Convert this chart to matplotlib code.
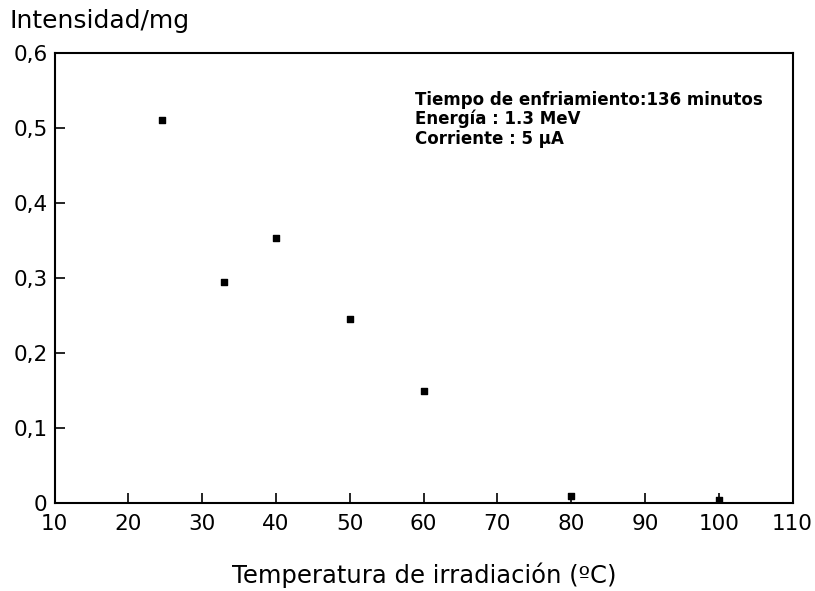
import matplotlib
matplotlib.use("Agg")
import matplotlib.pyplot as plt

# Data
temperatura = [24.6, 33, 40, 50, 60, 80, 100]
intensidad = [0.511, 0.295, 0.353, 0.245, 0.149, 0.009, 0.004]

x_ticks = [10, 20, 30, 40, 50, 60, 70, 80, 90, 100, 110]
y_ticks = [0, 0.1, 0.2, 0.3, 0.4, 0.5, 0.6]
y_tick_labels = ["0", "0,1", "0,2", "0,3", "0,4", "0,5", "0,6"]

info_lines = ["Tiempo de enfriamiento:136 minutos",
              "Energía : 1.3 MeV",
              "Corriente : 5 µA"]

plt.rcParams['font.family'] = ['DejaVu Sans']

fig = plt.figure(figsize=(8.15, 5.91), dpi=100)
ax = fig.add_axes([0.067, 0.149, 0.9055, 0.761])

ax.scatter(temperatura, intensidad, marker='s', s=16, color='black', zorder=3)

ax.set_xlim(10, 110)
ax.set_ylim(0, 0.6)
ax.set_xticks(x_ticks)
ax.set_xticklabels([str(t) for t in x_ticks])
ax.set_yticks(y_ticks)
ax.set_yticklabels(y_tick_labels)
ax.tick_params(direction='in', length=7, width=1.2, labelsize=15.5, color='black')
ax.tick_params(axis='x', pad=8)
ax.tick_params(axis='y', pad=5)
for s in ax.spines.values():
    s.set_linewidth(1.5)
    s.set_color('black')

fig.text(0.012, 0.965, "Intensidad/mg", fontsize=18, ha='left', va='center')
fig.text(0.52, 0.027, "Temperatura de irradiación (ºC)", fontsize=17.5, ha='center', va='center')

ax.text(0.488, 0.917, "\n".join(info_lines), transform=ax.transAxes,
        fontsize=12, fontweight='bold', ha='left', va='top', linespacing=1.1)

fig.savefig("out.png", dpi=100)
